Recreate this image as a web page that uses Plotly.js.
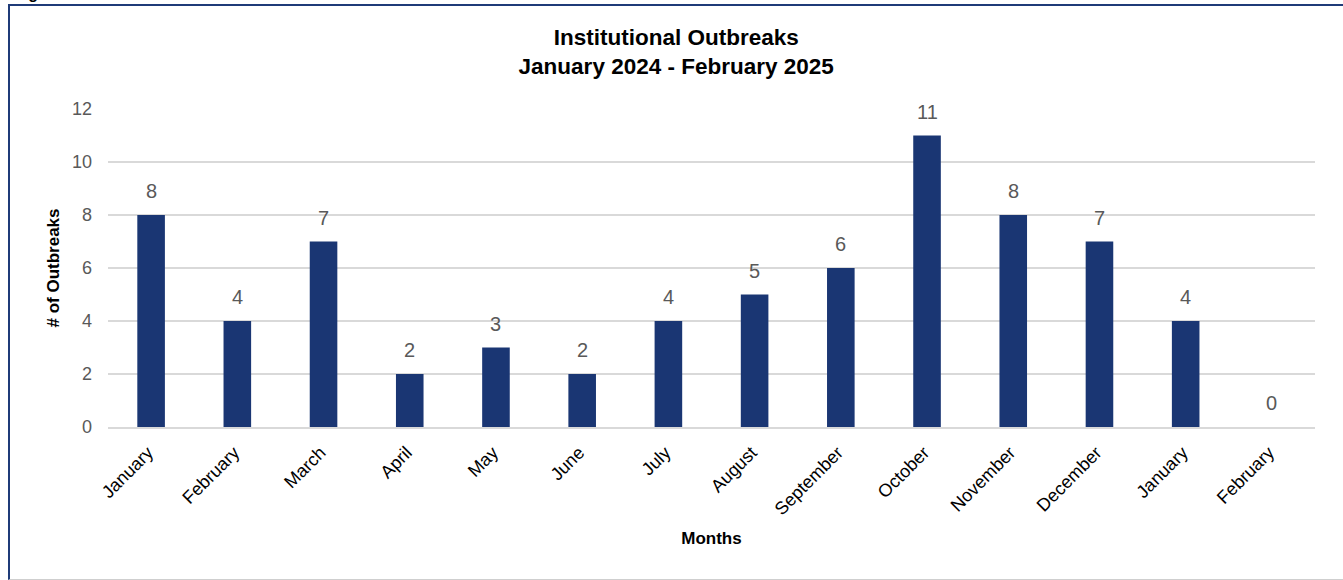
<!DOCTYPE html>
<html><head><meta charset="utf-8">
<script src="https://cdn.plot.ly/plotly-3.0.1.min.js"></script>
<style>
html,body{margin:0;padding:0;background:#fff;overflow:hidden;}
#frame{position:absolute;left:8px;top:4px;width:1400px;height:573px;border-top:2px solid #1f3b78;border-left:2px solid #1f3b78;border-bottom:1px solid #cfcfcf;}
#fig{position:absolute;left:14px;top:-15px;font:bold 16px "Liberation Sans",Arial,sans-serif;color:#000;}
#chart{position:absolute;left:0;top:0;width:1343px;height:580px;}
</style></head>
<body>
<div id="frame"></div>
<div id="fig">Figure</div>
<div id="chart"></div>
<script>
const months = ["January","February","March","April","May","June","July","August","September","October","November","December","January","February"];
const outbreaks = [8,4,7,2,3,2,4,5,6,11,8,7,4,0];
const idx = months.map((m,i)=>i);
const yTicks = [0,2,4,6,8,10,12];

const trace = {
  type:'bar', x: idx, y: outbreaks,
  marker:{color:'#1a3673'},
  hoverinfo:'skip'
};
const annotations = idx.map((i)=>({
  x:i, y:outbreaks[i], xref:'x', yref:'y', text:String(outbreaks[i]),
  showarrow:false, yanchor:'bottom', yshift:11,
  font:{family:'Liberation Sans, Arial, sans-serif', size:20, color:'#595959'}
}));
const layout = {
  width:1343, height:580,
  margin:{l:108, r:28, t:109, b:153},
  paper_bgcolor:'rgba(0,0,0,0)', plot_bgcolor:'rgba(0,0,0,0)',
  bargap:0.68,
  showlegend:false,
  title:{text:'<b>Institutional Outbreaks</b><br><b>January 2024 - February 2025</b>',
    x:0.5035, xref:'container', xanchor:'center', y:0.922, yanchor:'top',
    font:{family:'Liberation Sans, Arial, sans-serif', size:22.5, color:'#000'}},
  xaxis:{
    tickmode:'array', tickvals: idx, ticktext: months, tickangle:-45,
    range:[-0.5,13.5], showgrid:false, zeroline:false,
    showline:true, linecolor:'#d9d9d9', linewidth:2, ticks:'',
    ticklabelstandoff:6, ticklabelshift:-3,
    tickfont:{family:'Liberation Sans, Arial, sans-serif', size:18, color:'#000'},
    title:{text:'<b>Months</b>', standoff:14, font:{family:'Liberation Sans, Arial, sans-serif', size:17, color:'#000'}},
    automargin:false, fixedrange:true
  },
  yaxis:{
    range:[0,12], tickmode:'array', tickvals:yTicks,
    showgrid:true, gridcolor:'#d9d9d9', gridwidth:1.5, zeroline:false, showline:false,
    ticks:'', ticklabelstandoff:15,
    tickfont:{family:'Liberation Sans, Arial, sans-serif', size:18, color:'#595959'},
    title:{text:'<b># of Outbreaks</b>', standoff:8, font:{family:'Liberation Sans, Arial, sans-serif', size:17, color:'#000'}},
    automargin:false, fixedrange:true
  },
  annotations: annotations
};
Plotly.newPlot('chart',[trace],layout,{displayModeBar:false, staticPlot:true});
</script>
</body></html>
